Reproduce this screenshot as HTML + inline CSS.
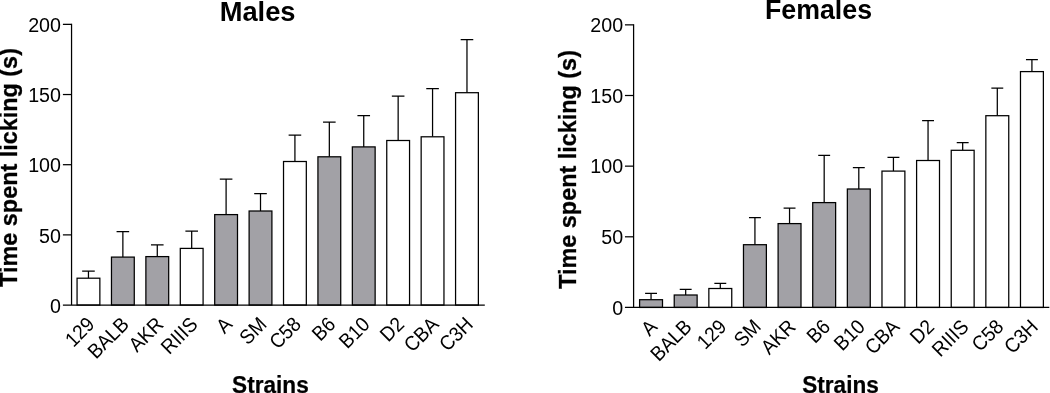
<!DOCTYPE html>
<html><head><meta charset="utf-8"><title>Time spent licking by strain</title>
<style>
html,body{margin:0;padding:0;background:#fff;}
body{width:1050px;height:393px;overflow:hidden;}
svg{display:block;}
text{font-family:"Liberation Sans",Arial,Helvetica,sans-serif;fill:#000;}
.yt{font-size:19.7px;}
.xt{font-size:19.7px;}
.ttl{font-size:27.3px;font-weight:bold;}
.lab{font-size:23.4px;font-weight:bold;stroke:#000;stroke-width:0.3px;}
.xlab{font-size:24.2px;font-weight:bold;stroke:#000;stroke-width:0.25px;}
</style></head><body>
<svg width="1050" height="393" viewBox="0 0 1050 393">
<rect width="1050" height="393" fill="#ffffff"/>
<g id="males">
<path d="M88.46 278.20V271.10M82.16 271.10H94.76" stroke="#000" stroke-width="1.25" fill="none"/>
<rect x="77.06" y="278.20" width="22.80" height="26.85" fill="#ffffff" stroke="#000" stroke-width="1.25"/>
<text class="xt" text-anchor="end" transform="translate(95.76 325.55) rotate(-45) scale(0.962 1.035)">129</text>
<path d="M122.87 257.10V231.50M116.57 231.50H129.17" stroke="#000" stroke-width="1.25" fill="none"/>
<rect x="111.47" y="257.10" width="22.80" height="47.95" fill="#a2a1a6" stroke="#000" stroke-width="1.25"/>
<text class="xt" text-anchor="end" transform="translate(130.17 325.55) rotate(-45) scale(0.962 1.035)">BALB</text>
<path d="M157.28 256.60V244.90M150.98 244.90H163.58" stroke="#000" stroke-width="1.25" fill="none"/>
<rect x="145.88" y="256.60" width="22.80" height="48.45" fill="#a2a1a6" stroke="#000" stroke-width="1.25"/>
<text class="xt" text-anchor="end" transform="translate(164.58 325.55) rotate(-45) scale(0.962 1.035)">AKR</text>
<path d="M191.69 248.40V231.10M185.39 231.10H197.99" stroke="#000" stroke-width="1.25" fill="none"/>
<rect x="180.29" y="248.40" width="22.80" height="56.65" fill="#ffffff" stroke="#000" stroke-width="1.25"/>
<text class="xt" text-anchor="end" transform="translate(198.99 325.55) rotate(-45) scale(0.962 1.035)">RIIIS</text>
<path d="M226.10 214.60V179.00M219.80 179.00H232.40" stroke="#000" stroke-width="1.25" fill="none"/>
<rect x="214.70" y="214.60" width="22.80" height="90.45" fill="#a2a1a6" stroke="#000" stroke-width="1.25"/>
<text class="xt" text-anchor="end" transform="translate(233.40 325.55) rotate(-45) scale(0.962 1.035)">A</text>
<path d="M260.51 211.00V193.60M254.21 193.60H266.81" stroke="#000" stroke-width="1.25" fill="none"/>
<rect x="249.11" y="211.00" width="22.80" height="94.05" fill="#a2a1a6" stroke="#000" stroke-width="1.25"/>
<text class="xt" text-anchor="end" transform="translate(267.81 325.55) rotate(-45) scale(0.962 1.035)">SM</text>
<path d="M294.92 161.50V135.00M288.62 135.00H301.22" stroke="#000" stroke-width="1.25" fill="none"/>
<rect x="283.52" y="161.50" width="22.80" height="143.55" fill="#ffffff" stroke="#000" stroke-width="1.25"/>
<text class="xt" text-anchor="end" transform="translate(302.22 325.55) rotate(-45) scale(0.962 1.035)">C58</text>
<path d="M329.33 156.80V122.20M323.03 122.20H335.63" stroke="#000" stroke-width="1.25" fill="none"/>
<rect x="317.93" y="156.80" width="22.80" height="148.25" fill="#a2a1a6" stroke="#000" stroke-width="1.25"/>
<text class="xt" text-anchor="end" transform="translate(336.63 325.55) rotate(-45) scale(0.962 1.035)">B6</text>
<path d="M363.74 146.90V115.70M357.44 115.70H370.04" stroke="#000" stroke-width="1.25" fill="none"/>
<rect x="352.34" y="146.90" width="22.80" height="158.15" fill="#a2a1a6" stroke="#000" stroke-width="1.25"/>
<text class="xt" text-anchor="end" transform="translate(371.04 325.55) rotate(-45) scale(0.962 1.035)">B10</text>
<path d="M398.15 140.50V96.00M391.85 96.00H404.45" stroke="#000" stroke-width="1.25" fill="none"/>
<rect x="386.75" y="140.50" width="22.80" height="164.55" fill="#ffffff" stroke="#000" stroke-width="1.25"/>
<text class="xt" text-anchor="end" transform="translate(405.45 325.55) rotate(-45) scale(0.962 1.035)">D2</text>
<path d="M432.56 136.80V88.70M426.26 88.70H438.86" stroke="#000" stroke-width="1.25" fill="none"/>
<rect x="421.16" y="136.80" width="22.80" height="168.25" fill="#ffffff" stroke="#000" stroke-width="1.25"/>
<text class="xt" text-anchor="end" transform="translate(439.86 325.55) rotate(-45) scale(0.962 1.035)">CBA</text>
<path d="M466.97 92.70V39.70M460.67 39.70H473.27" stroke="#000" stroke-width="1.25" fill="none"/>
<rect x="455.57" y="92.70" width="22.80" height="212.35" fill="#ffffff" stroke="#000" stroke-width="1.25"/>
<text class="xt" text-anchor="end" transform="translate(474.27 325.55) rotate(-45) scale(0.962 1.035)">C3H</text>
<path d="M71.55 23.73V305.05M62.90 305.05H484.80" stroke="#000" stroke-width="1.25" fill="none"/>
<path d="M62.90 234.88H71.55" stroke="#000" stroke-width="1.25" fill="none"/>
<path d="M62.90 164.70H71.55" stroke="#000" stroke-width="1.25" fill="none"/>
<path d="M62.90 94.53H71.55" stroke="#000" stroke-width="1.25" fill="none"/>
<path d="M62.90 24.35H71.55" stroke="#000" stroke-width="1.25" fill="none"/>
<text class="yt" text-anchor="end" transform="translate(61.00 312.80) scale(1 1.055)">0</text>
<text class="yt" text-anchor="end" transform="translate(61.00 242.62) scale(1 1.055)">50</text>
<text class="yt" text-anchor="end" transform="translate(61.00 172.45) scale(1 1.055)">100</text>
<text class="yt" text-anchor="end" transform="translate(61.00 102.28) scale(1 1.055)">150</text>
<text class="yt" text-anchor="end" transform="translate(61.00 32.10) scale(1 1.055)">200</text>
<text class="ttl" text-anchor="middle" transform="translate(257.60 20.90) scale(1.0 1.03)">Males</text>
<text class="xlab" text-anchor="middle" transform="translate(270.40 392.90) scale(0.934 1)">Strains</text>
<text class="lab" text-anchor="middle" transform="translate(16.90 167.45) rotate(-90)">Time spent licking (s)</text>
</g>
<g id="females">
<path d="M651.05 299.70V293.30M645.10 293.30H657.00" stroke="#000" stroke-width="1.25" fill="none"/>
<rect x="639.60" y="299.70" width="22.90" height="7.75" fill="#a2a1a6" stroke="#000" stroke-width="1.25"/>
<text class="xt" text-anchor="end" transform="translate(658.35 327.95) rotate(-45) scale(0.962 1.035)">A</text>
<path d="M685.68 295.00V289.30M679.73 289.30H691.63" stroke="#000" stroke-width="1.25" fill="none"/>
<rect x="674.23" y="295.00" width="22.90" height="12.45" fill="#a2a1a6" stroke="#000" stroke-width="1.25"/>
<text class="xt" text-anchor="end" transform="translate(692.98 327.95) rotate(-45) scale(0.962 1.035)">BALB</text>
<path d="M720.30 288.50V283.30M714.35 283.30H726.25" stroke="#000" stroke-width="1.25" fill="none"/>
<rect x="708.85" y="288.50" width="22.90" height="18.95" fill="#ffffff" stroke="#000" stroke-width="1.25"/>
<text class="xt" text-anchor="end" transform="translate(727.60 327.95) rotate(-45) scale(0.962 1.035)">129</text>
<path d="M754.93 244.70V217.50M748.98 217.50H760.88" stroke="#000" stroke-width="1.25" fill="none"/>
<rect x="743.48" y="244.70" width="22.90" height="62.75" fill="#a2a1a6" stroke="#000" stroke-width="1.25"/>
<text class="xt" text-anchor="end" transform="translate(762.23 327.95) rotate(-45) scale(0.962 1.035)">SM</text>
<path d="M789.55 223.60V208.00M783.60 208.00H795.50" stroke="#000" stroke-width="1.25" fill="none"/>
<rect x="778.10" y="223.60" width="22.90" height="83.85" fill="#a2a1a6" stroke="#000" stroke-width="1.25"/>
<text class="xt" text-anchor="end" transform="translate(796.85 327.95) rotate(-45) scale(0.962 1.035)">AKR</text>
<path d="M824.18 202.60V155.40M818.23 155.40H830.13" stroke="#000" stroke-width="1.25" fill="none"/>
<rect x="812.73" y="202.60" width="22.90" height="104.85" fill="#a2a1a6" stroke="#000" stroke-width="1.25"/>
<text class="xt" text-anchor="end" transform="translate(831.48 327.95) rotate(-45) scale(0.962 1.035)">B6</text>
<path d="M858.80 189.00V167.60M852.85 167.60H864.75" stroke="#000" stroke-width="1.25" fill="none"/>
<rect x="847.35" y="189.00" width="22.90" height="118.45" fill="#a2a1a6" stroke="#000" stroke-width="1.25"/>
<text class="xt" text-anchor="end" transform="translate(866.10 327.95) rotate(-45) scale(0.962 1.035)">B10</text>
<path d="M893.43 171.10V157.30M887.48 157.30H899.38" stroke="#000" stroke-width="1.25" fill="none"/>
<rect x="881.98" y="171.10" width="22.90" height="136.35" fill="#ffffff" stroke="#000" stroke-width="1.25"/>
<text class="xt" text-anchor="end" transform="translate(900.73 327.95) rotate(-45) scale(0.962 1.035)">CBA</text>
<path d="M928.05 160.50V120.50M922.10 120.50H934.00" stroke="#000" stroke-width="1.25" fill="none"/>
<rect x="916.60" y="160.50" width="22.90" height="146.95" fill="#ffffff" stroke="#000" stroke-width="1.25"/>
<text class="xt" text-anchor="end" transform="translate(935.35 327.95) rotate(-45) scale(0.962 1.035)">D2</text>
<path d="M962.68 150.30V142.60M956.73 142.60H968.63" stroke="#000" stroke-width="1.25" fill="none"/>
<rect x="951.23" y="150.30" width="22.90" height="157.15" fill="#ffffff" stroke="#000" stroke-width="1.25"/>
<text class="xt" text-anchor="end" transform="translate(969.98 327.95) rotate(-45) scale(0.962 1.035)">RIIIS</text>
<path d="M997.30 115.70V88.00M991.35 88.00H1003.25" stroke="#000" stroke-width="1.25" fill="none"/>
<rect x="985.85" y="115.70" width="22.90" height="191.75" fill="#ffffff" stroke="#000" stroke-width="1.25"/>
<text class="xt" text-anchor="end" transform="translate(1004.60 327.95) rotate(-45) scale(0.962 1.035)">C58</text>
<path d="M1031.92 71.60V59.50M1025.97 59.50H1037.88" stroke="#000" stroke-width="1.25" fill="none"/>
<rect x="1020.48" y="71.60" width="22.90" height="235.85" fill="#ffffff" stroke="#000" stroke-width="1.25"/>
<text class="xt" text-anchor="end" transform="translate(1039.22 327.95) rotate(-45) scale(0.962 1.035)">C3H</text>
<path d="M633.60 24.23V307.45M624.95 307.45H1049.30" stroke="#000" stroke-width="1.25" fill="none"/>
<path d="M624.95 236.80H633.60" stroke="#000" stroke-width="1.25" fill="none"/>
<path d="M624.95 166.15H633.60" stroke="#000" stroke-width="1.25" fill="none"/>
<path d="M624.95 95.50H633.60" stroke="#000" stroke-width="1.25" fill="none"/>
<path d="M624.95 24.85H633.60" stroke="#000" stroke-width="1.25" fill="none"/>
<text class="yt" text-anchor="end" transform="translate(623.10 314.70) scale(1 1.055)">0</text>
<text class="yt" text-anchor="end" transform="translate(623.10 244.05) scale(1 1.055)">50</text>
<text class="yt" text-anchor="end" transform="translate(623.10 173.40) scale(1 1.055)">100</text>
<text class="yt" text-anchor="end" transform="translate(623.10 102.75) scale(1 1.055)">150</text>
<text class="yt" text-anchor="end" transform="translate(623.10 32.10) scale(1 1.055)">200</text>
<text class="ttl" text-anchor="middle" transform="translate(818.50 19.40) scale(0.98 1.03)">Females</text>
<text class="xlab" text-anchor="middle" transform="translate(840.50 392.90) scale(0.934 1)">Strains</text>
<text class="lab" text-anchor="middle" transform="translate(576.00 169.45) rotate(-90)">Time spent licking (s)</text>
</g>
</svg>
</body></html>
